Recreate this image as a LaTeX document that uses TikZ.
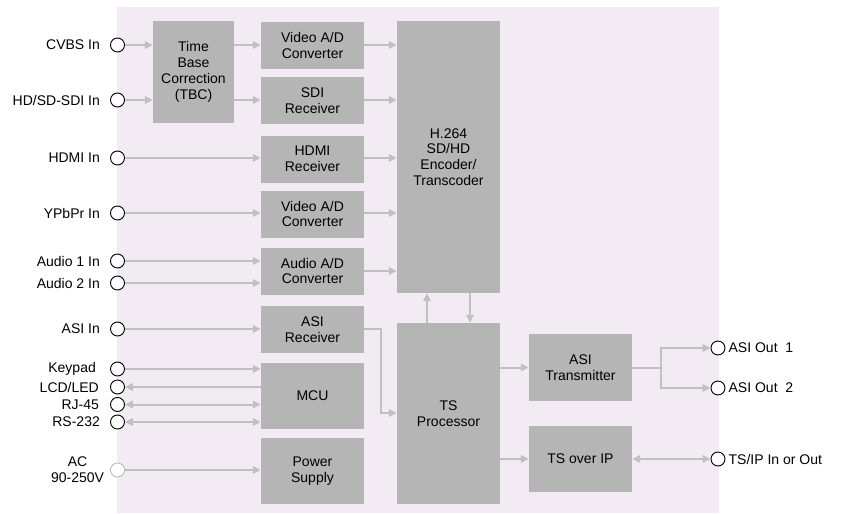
\documentclass[tikz,border=0pt]{standalone}
\usepackage{fontspec}
\setmainfont{Liberation Sans}
\usetikzlibrary{arrows.meta,calc}
\definecolor{bgc}{RGB}{242,235,244}
\definecolor{boxc}{RGB}{181,181,181}
\definecolor{arrc}{RGB}{192,192,192}
\begin{document}
\begin{tikzpicture}[x=1pt,y=-1pt,
  >={Triangle[length=8pt,width=7.5pt]},
  box/.style={fill=boxc,draw=none,inner sep=0pt,align=center,font=\fontsize{14}{15.8}\selectfont},
  port/.style={circle,draw=black,fill=white,line width=0.9pt,minimum size=14pt,inner sep=0pt},
  lbl/.style={font=\fontsize{14}{15.8}\selectfont,inner sep=0pt},
  flow/.style={draw=arrc,line width=2pt,->},
  bflow/.style={draw=arrc,line width=2pt,<->},
  rflow/.style={draw=arrc,line width=2pt,<-},
  pline/.style={draw=arrc,line width=2pt}]
\useasboundingbox (0,0) rectangle (844,514);
\fill[bgc] (117,7) rectangle (719,513);

% boxes
\node[box,minimum width=81pt,minimum height=102pt] (tbc) at (193.5,72) {Time\\Base\\Correction\\(TBC)};
\node[box,minimum width=103pt,minimum height=47pt] (vad1) at (312.5,45.5) {Video A/D\\Converter};
\node[box,minimum width=103pt,minimum height=47pt] (sdi) at (312.5,100.5) {SDI\\Receiver};
\node[box,minimum width=103pt,minimum height=47pt] (hdmi) at (312.5,159) {HDMI\\Receiver};
\node[box,minimum width=103pt,minimum height=47pt] (vad2) at (312.5,214) {Video A/D\\Converter};
\node[box,minimum width=103pt,minimum height=47pt] (aad) at (312.5,271) {Audio A/D\\Converter};
\node[box,minimum width=103pt,minimum height=47pt] (asir) at (312.5,329.5) {ASI\\Receiver};
\node[box,minimum width=103pt,minimum height=66pt] (mcu) at (312.5,396) {MCU};
\node[box,minimum width=103pt,minimum height=66pt] (psu) at (312.5,471) {Power\\Supply};
\node[box,minimum width=103pt,minimum height=272pt] (h264) at (448.5,157) {H.264\\SD/HD\\Encoder/\\Transcoder};
\node[box,minimum width=103pt,minimum height=181pt] (tsp) at (448.5,413.5) {TS\\Processor};
\node[box,minimum width=103pt,minimum height=67pt] (asit) at (580.5,367.5) {ASI\\Transmitter};
\node[box,minimum width=103pt,minimum height=66pt] (tsip) at (580.5,459) {TS over IP};

% input ports
\node[port] (cvbs) at (117.5,45) {};
\node[port] (sdiin) at (117.5,100) {};
\node[port] (hdmiin) at (117.5,158) {};
\node[port] (ypbpr) at (117.5,213) {};
\node[port] (au1) at (117.5,261) {};
\node[port] (au2) at (117.5,283) {};
\node[port] (asiin) at (117.5,329) {};
\node[port] (kp) at (117.5,369) {};
\node[port] (lcd) at (117.5,387) {};
\node[port] (rj) at (117.5,404.5) {};
\node[port] (rs) at (117.5,422) {};
\node[port,draw=gray!70,line width=0.6pt] (ac) at (117.5,470) {};

% output ports
\node[port] (o1) at (718,348) {};
\node[port] (o2) at (718,388) {};
\node[port] (o3) at (718,459) {};

% input labels
\node[lbl,anchor=east] (lcvbs) at ([xshift=-10pt]cvbs.west) {CVBS In};
\node[lbl,anchor=east] (lsdi) at ([xshift=-10pt]sdiin.west) {HD/SD-SDI In};
\node[lbl,anchor=east] (lhdmi) at ([xshift=-10pt]hdmiin.west) {HDMI In};
\node[lbl,anchor=east] (lypbpr) at ([xshift=-10pt]ypbpr.west) {YPbPr In};
\node[lbl,anchor=east] (lau1) at ([xshift=-10pt]au1.west) {Audio 1 In};
\node[lbl,anchor=east] (lau2) at ([xshift=-10pt]au2.west) {Audio 2 In};
\node[lbl,anchor=east] (lasi) at ([xshift=-10pt]asiin.west) {ASI In};
\node[lbl,anchor=east] (lkp) at ([xshift=-14pt]kp.west) {Keypad};
\node[lbl,anchor=east] (llcd) at ([xshift=-11pt]lcd.west) {LCD/LED};
\node[lbl,anchor=east] (lrj) at ([xshift=-11pt]rj.west) {RJ-45};
\node[lbl,anchor=east] (lrs) at ([xshift=-10pt]rs.west) {RS-232};
\node[lbl,anchor=east,align=center] (lac) at ([xshift=-6pt]ac.west) {AC\\90-250V};

% output labels
\node[lbl,anchor=west] (lo1) at ([xshift=3pt]o1.east) {ASI Out\ \ 1};
\node[lbl,anchor=west] (lo2) at ([xshift=3pt]o2.east) {ASI Out\ \ 2};
\node[lbl,anchor=west] (lo3) at ([xshift=3pt]o3.east) {TS/IP In or Out};

% connectors: inputs
\draw[flow] (cvbs.east) -- (tbc.west |- cvbs.east);
\draw[flow] (sdiin.east) -- (tbc.west |- sdiin.east);
\draw[flow] (tbc.east |- cvbs.east) -- (vad1.west |- cvbs.east);
\draw[flow] (tbc.east |- sdiin.east) -- (sdi.west |- sdiin.east);
\draw[flow] (hdmiin.east) -- (hdmi.west |- hdmiin.east);
\draw[flow] (ypbpr.east) -- (vad2.west |- ypbpr.east);
\draw[flow] (au1.east) -- (aad.west |- au1.east);
\draw[flow] (au2.east) -- (aad.west |- au2.east);
\draw[flow] (asiin.east) -- (asir.west |- asiin.east);
\draw[flow] (kp.east) -- (mcu.west |- kp.east);
\draw[rflow] (lcd.east) -- (mcu.west |- lcd.east);
\draw[bflow] (rj.east) -- (mcu.west |- rj.east);
\draw[bflow] (rs.east) -- (mcu.west |- rs.east);
\draw[flow] (ac.east) -- (psu.west |- ac.east);

% to encoder
\draw[flow] (vad1.east |- cvbs.east) -- (h264.west |- cvbs.east);
\draw[flow] (sdi.east |- sdiin.east) -- (h264.west |- sdiin.east);
\draw[flow] (hdmi.east |- hdmiin.east) -- (h264.west |- hdmiin.east);
\draw[flow] (vad2.east |- ypbpr.east) -- (h264.west |- ypbpr.east);
\draw[flow] (aad.east) -- (h264.west |- aad.east);

% encoder <-> TS processor
\draw[flow] ([xshift=-21.5pt]tsp.north) -- ([xshift=-21.5pt]h264.south);
\draw[flow] ([xshift=21.5pt]h264.south) -- ([xshift=21.5pt]tsp.north);

% ASI receiver to TS processor
\coordinate (bend) at (381,413);
\draw[flow] (asiin.east -| asir.east) -| (bend) -- (tsp.west |- bend);

% TS processor outputs
\draw[flow] (tsp.east |- asit.west) -- (asit.west);
\draw[flow] (tsp.east |- tsip.west) -- (tsip.west);
\coordinate (split) at (661,367.5);
\draw[pline] (asit.east) -- (split);
\draw[flow] (split) |- (o1.west);
\draw[flow] (split) |- (o2.west);
\draw[bflow] (tsip.east) -- (o3.west);
\end{tikzpicture}
\end{document}
